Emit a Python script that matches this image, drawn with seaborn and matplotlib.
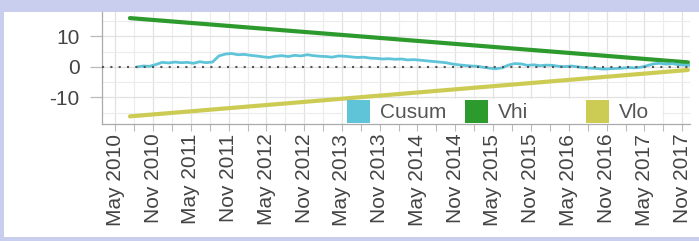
import matplotlib
matplotlib.use("Agg")
import matplotlib.pyplot as plt
import matplotlib.dates as mdates
from matplotlib.patches import Rectangle
from matplotlib.ticker import MultipleLocator
import numpy as np
import pandas as pd
import seaborn as sns

# ---------------- data ----------------
cusum_start = "2010-07-15"
cusum_values = [
    0.0, 0.3, 0.2, 0.8, 1.5, 1.3,                                   # 2010 Jul-Dec
    1.6, 1.4, 1.5, 1.2, 1.7, 1.4, 1.6, 3.6, 4.2, 4.4, 4.0, 4.1,     # 2011
    3.8, 3.6, 3.3, 3.1, 3.5, 3.7, 3.4, 3.8, 3.6, 4.0, 3.7, 3.5,     # 2012
    3.4, 3.2, 3.6, 3.5, 3.3, 3.1, 3.2, 2.9, 2.8, 2.6, 2.7, 2.5,     # 2013
    2.6, 2.3, 2.4, 2.2, 2.0, 1.8, 1.6, 1.4, 1.0, 0.7, 0.5, 0.3,     # 2014
    0.2, -0.1, -0.4, -0.6, -0.3, 0.6, 1.1, 1.0, 0.5, 0.7, 0.4, 0.6, # 2015
    0.5, 0.2, 0.1, 0.3, 0.0, -0.2, -0.4, -0.5, -0.7, -0.6, -0.5, -0.4,  # 2016
    -0.2, -0.3, -0.1, 0.4, 1.0, 1.2, 0.9, 1.1, 0.7, 0.6, 0.5,       # 2017 Jan-Nov
]
mask_dates = ["2010-07-12", "2017-11-29"]
vhi_values = [16.0, 1.5]
vlo_values = [-16.2, -1.0]
series_names = ["Cusum", "Vhi", "Vlo"]
series_colors = ["#5fc4d8", "#2c9a2c", "#cccc55"]
y_ticks = [-10, 0, 10]

# ---------------- frames ----------------
cusum_dates = pd.date_range(cusum_start, periods=len(cusum_values), freq="MS") + pd.Timedelta(days=14)
df_cusum = pd.DataFrame({"date": cusum_dates, "value": cusum_values})
df_vhi = pd.DataFrame({"date": pd.to_datetime(mask_dates), "value": vhi_values})
df_vlo = pd.DataFrame({"date": pd.to_datetime(mask_dates), "value": vlo_values})

sns.set_style("white")
plt.rcParams["font.family"] = ["Liberation Sans", "DejaVu Sans"]
plt.rcParams["axes.unicode_minus"] = False

W, H = 699, 241
fig = plt.figure(figsize=(W / 100, H / 100), dpi=100)
fig.patch.set_facecolor("#c9ceee")
fig.patches.append(Rectangle((4 / W, 4 / H), 695 / W, 225 / H,
                             transform=fig.transFigure, facecolor="white",
                             edgecolor="none", zorder=-10))

ax = fig.add_axes([102 / W, 1 - 124 / H, 588 / W, 112 / H])
ax.set_zorder(5)
ax.set_facecolor("white")
ax.set_axisbelow(True)

sns.lineplot(data=df_vhi, x="date", y="value", ax=ax, color=series_colors[1], lw=3.0, zorder=3)
sns.lineplot(data=df_vlo, x="date", y="value", ax=ax, color=series_colors[2], lw=3.0, zorder=3)
sns.lineplot(data=df_cusum, x="date", y="value", ax=ax, color=series_colors[0], lw=2.0, zorder=4)
ax.axhline(0, color="#555555", ls=(0, (1, 3)), lw=1.5, zorder=5)

ax.set_xlim(pd.Timestamp("2010-02-27"), pd.Timestamp("2017-12-09"))
ax.set_ylim(-18.7, 18.0)

ax.xaxis.set_major_locator(mdates.MonthLocator(bymonth=[5, 11]))
ax.xaxis.set_minor_locator(mdates.MonthLocator(bymonth=[2, 8]))
ax.xaxis.set_major_formatter(mdates.DateFormatter("%b %Y"))
ax.set_yticks(y_ticks)
ax.yaxis.set_minor_locator(MultipleLocator(5))

ax.grid(True, which="major", color="#e2e2e2", lw=0.9)
ax.grid(True, which="minor", color="#ececec", lw=0.8)

ax.tick_params(axis="x", which="both", length=5, width=0.8, color="#bbbbbb",
               labelsize=15, labelcolor="#444444", rotation=90, pad=2, bottom=True)
ax.tick_params(axis="y", which="major", length=9, width=0.9, color="#bbbbbb",
               labelsize=15, labelcolor="#444444", pad=7, left=True)
ax.tick_params(axis="y", which="minor", length=0)
for lab in ax.get_xticklabels():
    lab.set_ha("center")

for s in ["top", "right"]:
    ax.spines[s].set_visible(False)
for s in ["left", "bottom"]:
    ax.spines[s].set_color("#aaaaaa")
    ax.spines[s].set_linewidth(0.9)
ax.set_xlabel("")
ax.set_ylabel("")

# ---------------- legend ----------------
def px_to_ax(xp, yp):
    return (xp - 102) / 588, (124 - yp) / 112

bx0, by0 = px_to_ax(343, 124)
bx1, by1 = px_to_ax(662, 99)
ax.add_patch(Rectangle((bx0, by0), bx1 - bx0, by1 - by0, transform=ax.transAxes,
                       facecolor="white", edgecolor="none", zorder=2, clip_on=False))
legend_x = [347, 465, 586]
for name, col, xp in zip(series_names, series_colors, legend_x):
    x0, y0 = px_to_ax(xp, 123)
    x1, y1 = px_to_ax(xp + 23, 100)
    ax.add_patch(Rectangle((x0, y0), x1 - x0, y1 - y0, transform=ax.transAxes,
                           facecolor=col, edgecolor="none", zorder=6, clip_on=False))
    tx, ty = px_to_ax(xp + 33, 112)
    ax.text(tx, ty, name, transform=ax.transAxes, fontsize=15, color="#555555",
            va="center", ha="left", zorder=6)

fig.savefig("out.png", dpi=100, facecolor=fig.get_facecolor())
